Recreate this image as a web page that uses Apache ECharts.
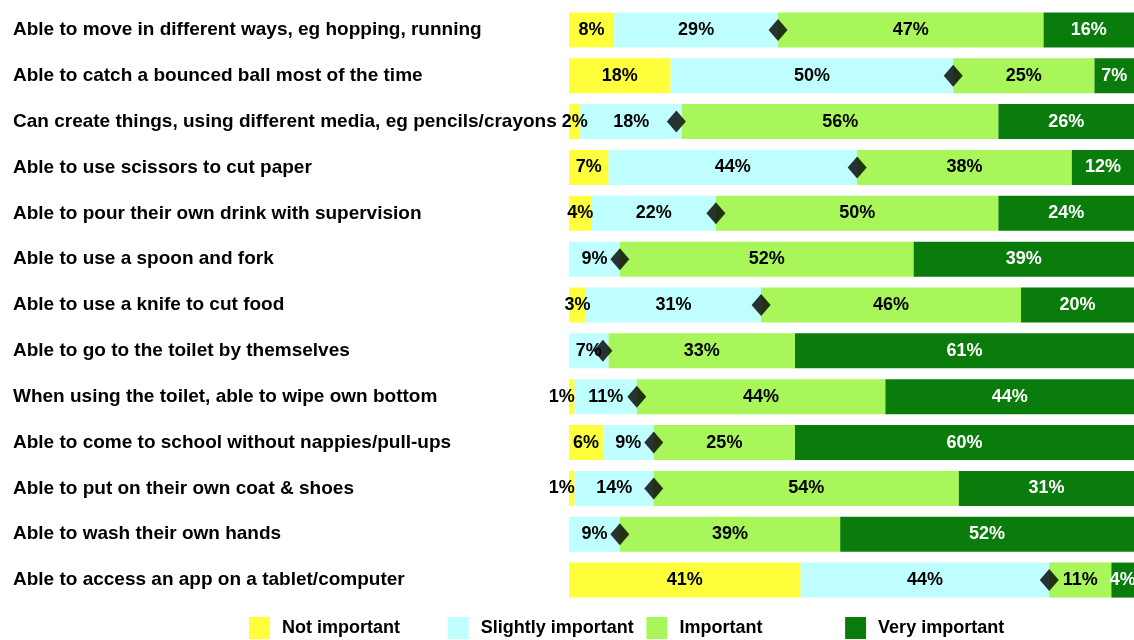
<!DOCTYPE html>
<html>
<head>
<meta charset="utf-8">
<script src="https://cdn.jsdelivr.net/npm/echarts@6/dist/echarts.min.js"></script>
<style>
  html, body { margin: 0; padding: 0; background: #fff; }
  #main { width: 1134px; height: 640px; }
</style>
</head>
<body>
<div id="main"></div>
<script>
// skills, top to bottom
var skills = [
  'Able to move in different ways, eg hopping, running',
  'Able to catch a bounced ball most of the time',
  'Can create things, using different media, eg pencils/crayons',
  'Able to use scissors to cut paper',
  'Able to pour their own drink with supervision',
  'Able to use a spoon and fork',
  'Able to use a knife to cut food',
  'Able to go to the toilet by themselves',
  'When using the toilet, able to wipe own bottom',
  'Able to come to school without nappies/pull-ups',
  'Able to put on their own coat & shoes',
  'Able to wash their own hands',
  'Able to access an app on a tablet/computer'
];
var notImportant      = [8, 18, 2, 7, 4, 0, 3, 0, 1, 6, 1, 0, 41];
var slightlyImportant = [29, 50, 18, 44, 22, 9, 31, 7, 11, 9, 14, 9, 44];
var important         = [47, 25, 56, 38, 50, 52, 46, 33, 44, 25, 54, 39, 11];
var veryImportant     = [16, 7, 26, 12, 24, 39, 20, 61, 44, 60, 31, 52, 4];
// diamond markers (position)
var marker = [37, 68, 19, 51, 26, 9, 34, 6, 12, 15, 15, 9, 85];

var legendNames = ['Not important', 'Slightly important', 'Important', 'Very important'];
var colors = ['#ffff3c', '#c0ffff', '#a8f65a', '#0a7c0c'];

var font = '"Liberation Sans", Arial, sans-serif';

var chart = echarts.init(document.getElementById('main'));

function pct(p) { return p.value ? p.value + '%' : ''; }

function barSeries(name, data, color, textColor) {
  return {
    name: name,
    type: 'bar',
    stack: 'all',
    barWidth: 35,
    // tiny 1% segments get their label nudged left, like the original
    data: data.map(function (v) {
      return v === 1 ? { value: v, label: { offset: [-10, 0] } } : v;
    }),
    itemStyle: { color: color },
    label: {
      show: true,
      position: 'inside',
      formatter: pct,
      color: textColor,
      fontFamily: font,
      fontWeight: 'bold',
      fontSize: 18
    },
    emphasis: { disabled: true }
  };
}

// one legend per item so they sit evenly spaced
var legends = legendNames.map(function (n, i) {
  return {
    data: [n],
    left: 249 + i * 198.7,
    top: 617,
    padding: 0,
    itemWidth: 21,
    itemHeight: 22,
    icon: 'rect',
    selectedMode: false,
    textStyle: {
      color: '#000',
      fontFamily: font,
      fontWeight: 'bold',
      fontSize: 18,
      padding: [0, 0, 0, 7]
    }
  };
});

var option = {
  animation: false,
  grid: { left: 569, right: 0, top: 7, bottom: 37 },
  xAxis: {
    type: 'value',
    min: 0,
    max: 100,
    show: false
  },
  yAxis: {
    type: 'category',
    data: skills,
    inverse: true,
    axisLine: { show: false },
    axisTick: { show: false },
    axisLabel: {
      align: 'left',
      margin: 556,
      color: '#000',
      fontFamily: font,
      fontWeight: 'bold',
      fontSize: 19
    }
  },
  legend: legends,
  series: [
    barSeries(legendNames[0], notImportant, colors[0], '#000'),
    barSeries(legendNames[1], slightlyImportant, colors[1], '#000'),
    barSeries(legendNames[2], important, colors[2], '#000'),
    barSeries(legendNames[3], veryImportant, colors[3], '#fff'),
    {
      name: 'marker',
      type: 'scatter',
      symbol: 'diamond',
      symbolSize: [19, 22],
      z: 5,
      itemStyle: { color: '#000' },
      data: marker.map(function (v, i) { return [v, i]; }),
      emphasis: { disabled: true }
    }
  ]
};

chart.setOption(option);
</script>
</body>
</html>
